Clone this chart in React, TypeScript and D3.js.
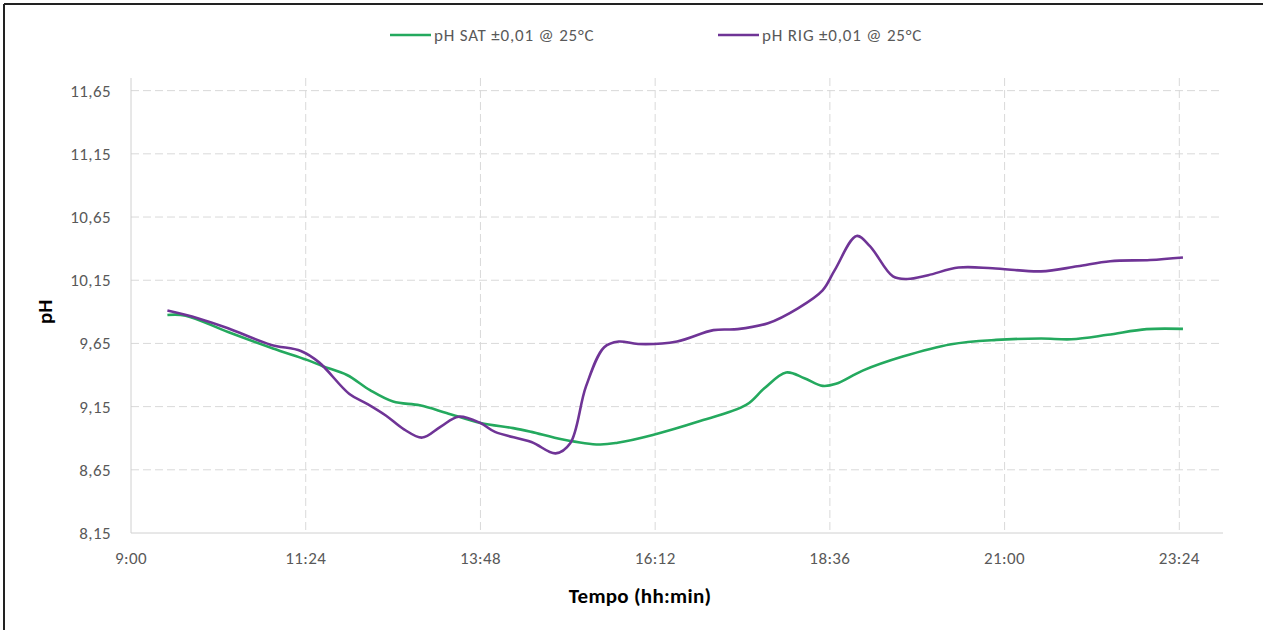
import React, { useMemo } from 'react';
import * as d3 from 'd3';

// time of each reading (hh:mm) and pH values
const satTimes = ['9:30', '9:45', '10:20', '10:57', '11:25', '11:38', '11:58', '12:17', '12:36', '12:58', '13:20', '13:48', '14:15', '14:30', '14:56', '15:26', '15:41', '16:10', '16:47', '17:27', '17:42', '18:00', '18:15', '18:30', '18:41', '19:03', '19:36', '20:16', '20:53', '21:30', '21:55', '22:25', '22:57', '23:27'];
const satValues = [9.875, 9.87, 9.74, 9.61, 9.52, 9.47, 9.4, 9.28, 9.19, 9.16, 9.1, 9.02, 8.98, 8.95, 8.89, 8.85, 8.864, 8.926, 9.03, 9.163, 9.295, 9.42, 9.375, 9.314, 9.33, 9.435, 9.546, 9.644, 9.678, 9.689, 9.683, 9.718, 9.763, 9.765];

const rigTimes = ['9:30', '9:55', '10:20', '10:55', '11:20', '11:35', '12:00', '12:15', '12:30', '12:45', '13:00', '13:15', '13:30', '13:48', '14:00', '14:30', '14:50', '15:02', '15:15', '15:30', '15:42', '15:58', '16:30', '17:00', '17:20', '17:45', '18:10', '18:30', '18:40', '18:58', '19:09', '19:28', '19:40', '19:57', '20:22', '20:50', '21:30', '22:00', '22:27', '23:00', '23:27'];
const rigValues = [9.91, 9.85, 9.77, 9.64, 9.59, 9.5, 9.25, 9.17, 9.08, 8.97, 8.905, 8.99, 9.07, 9.02, 8.95, 8.87, 8.78, 8.86, 9.31, 9.62, 9.665, 9.645, 9.665, 9.755, 9.763, 9.81, 9.93, 10.07, 10.23, 10.5, 10.42, 10.18, 10.16, 10.19, 10.25, 10.245, 10.22, 10.26, 10.3, 10.31, 10.33];

const xTickLabels = ['9:00', '11:24', '13:48', '16:12', '18:36', '21:00', '23:24'];
const yTickValues = [8.15, 8.65, 9.15, 9.65, 10.15, 10.65, 11.15, 11.65];

const seriesNames = ['pH SAT ±0,01 @ 25°C', 'pH RIG ±0,01 @ 25°C'];
const seriesColors = ['#24a95e', '#6f3496'];

const toMin = (t: string) => {
  const [h, m] = t.split(':').map(Number);
  return h * 60 + m;
};

const FONT = "Carlito, Lato, 'Open Sans', sans-serif";

export default function App() {
  const W = 1263;
  const H = 630;
  const plot = { left: 131, right: 1223, top: 78, bottom: 533 };

  const x = d3.scaleLinear().domain([9 * 60, 24 * 60]).range([plot.left, plot.right]);
  const y = d3.scaleLinear().domain([8.15, 11.75]).range([plot.bottom, plot.top]);

  const line = d3
    .line<[number, number]>()
    .x((d) => x(d[0]))
    .y((d) => y(d[1]))
    .curve(d3.curveCatmullRom.alpha(0.5));

  const paths = useMemo(() => {
    const sat = satTimes.map((t, i) => [toMin(t), satValues[i]] as [number, number]);
    const rig = rigTimes.map((t, i) => [toMin(t), rigValues[i]] as [number, number]);
    return [line(sat) || '', line(rig) || ''];
  }, []);

  const legendX = [390, 718];

  return (
    <svg
      width={W}
      height={H}
      style={{ position: 'absolute', left: 0, top: 0, background: '#fff' }}
      fontFamily={FONT}
    >
      <rect x={0} y={0} width={W} height={H} fill="#fff" />
      {/* frame edges */}
      <line x1={4} x2={W} y1={4} y2={4} stroke="#222" strokeWidth={2} />
      <line x1={4} x2={4} y1={4} y2={H} stroke="#222" strokeWidth={2} />

      {/* horizontal grid */}
      {yTickValues.slice(1).map((v) => (
        <line
          key={'h' + v}
          x1={plot.left}
          x2={plot.right}
          y1={y(v)}
          y2={y(v)}
          stroke="#d9d9d9"
          strokeWidth={1}
          strokeDasharray="8,4"
        />
      ))}
      {/* vertical grid */}
      {xTickLabels.slice(1).map((t) => (
        <line
          key={'v' + t}
          x1={x(toMin(t))}
          x2={x(toMin(t))}
          y1={plot.top}
          y2={plot.bottom}
          stroke="#d9d9d9"
          strokeWidth={1}
          strokeDasharray="8,4"
        />
      ))}
      {/* axes */}
      <line x1={plot.left} x2={plot.left} y1={plot.top} y2={plot.bottom} stroke="#d0d0d0" />
      <line x1={plot.left} x2={plot.right} y1={plot.bottom} y2={plot.bottom} stroke="#d0d0d0" />

      {/* y tick labels */}
      {yTickValues.map((v) => (
        <text
          key={'yl' + v}
          x={111}
          y={y(v)}
          dy="0.35em"
          textAnchor="end"
          fontSize={17}
          letterSpacing={0.4}
          fill="#595959"
        >
          {v.toFixed(2).replace('.', ',')}
        </text>
      ))}
      {/* x tick labels */}
      {xTickLabels.map((t) => (
        <text
          key={'xl' + t}
          x={x(toMin(t))}
          y={564}
          textAnchor="middle"
          fontSize={17}
          letterSpacing={0.4}
          fill="#595959"
        >
          {t}
        </text>
      ))}

      {/* axis titles */}
      <text
        x={640}
        y={603}
        textAnchor="middle"
        fontSize={21}
        fontWeight="bold"
        letterSpacing={0.3}
        fill="#000"
      >
        Tempo (hh:min)
      </text>
      <text
        transform={`translate(52,${y(9.9)}) rotate(-90)`}
        textAnchor="middle"
        fontSize={21}
        fontWeight="bold"
        fill="#000"
      >
        pH
      </text>

      {/* series */}
      {paths.map((d, i) => (
        <path key={'s' + i} d={d} fill="none" stroke={seriesColors[i]} strokeWidth={2.6} strokeLinejoin="round" />
      ))}

      {/* legend */}
      {seriesNames.map((name, i) => (
        <g key={'lg' + i}>
          <line
            x1={legendX[i]}
            x2={legendX[i] + 41}
            y1={35}
            y2={35}
            stroke={seriesColors[i]}
            strokeWidth={2.6}
          />
          <text x={legendX[i] + 44} y={35} dy="0.35em" fontSize={17} letterSpacing={0.8} fill="#595959">
            {name}
          </text>
        </g>
      ))}
    </svg>
  );
}
